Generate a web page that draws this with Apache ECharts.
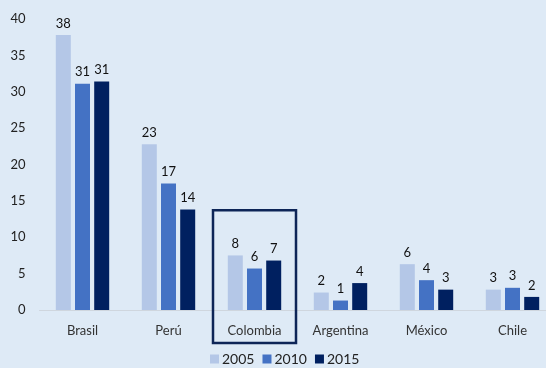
<!DOCTYPE html>
<html>
<head>
<meta charset="utf-8">
<script src="https://cdn.jsdelivr.net/npm/echarts@6/dist/echarts.min.js"></script>
<style>
  html, body { margin: 0; padding: 0; background: #deeaf6; }
  #chart { width: 546px; height: 368px; }
</style>
</head>
<body>
<div id="chart"></div>
<script>
var paises = ['Brasil', 'Perú', 'Colombia', 'Argentina', 'México', 'Chile'];
var anios = ['2005', '2010', '2015'];
var v2005 = [37.8, 22.8, 7.5, 2.4, 6.3, 2.8];
var v2010 = [31.1, 17.4, 5.7, 1.3, 4.1, 3.05];
var v2015 = [31.4, 13.8, 6.8, 3.7, 2.8, 1.8];
var colores = ['#b4c7e7', '#4472c4', '#002060'];

var fuente = 'Lato, "Open Sans", sans-serif';

function serie(nombre, datos, color) {
    return {
        name: nombre,
        type: 'bar',
        data: datos,
        barWidth: 15,
        barGap: '28%',
        itemStyle: { color: color },
        label: {
            show: true,
            position: 'top',
            distance: 5,
            color: '#111',
            fontSize: 13,
            fontFamily: fuente,
            formatter: function (p) { return Math.round(p.value); }
        }
    };
}

var echart = echarts.init(document.getElementById('chart'));
var option = {
    backgroundColor: '#deeaf6',
    animation: false,
    grid: { left: 39.5, right: -9.5, top: 19, bottom: 58, outerBoundsMode: 'none' },
    legend: {
        data: anios,
        left: 210,
        bottom: 2,
        padding: 0,
        itemWidth: 9,
        itemHeight: 9,
        itemGap: 8,
        icon: 'rect',
        textStyle: { fontSize: 14, color: '#222', fontFamily: fuente, padding: [0, 0, 0, -2] }
    },
    xAxis: {
        type: 'category',
        data: paises,
        axisLine: { lineStyle: { color: '#cfd6de', width: 1 } },
        axisTick: { show: false },
        axisLabel: { color: '#333', fontSize: 13, fontFamily: fuente, margin: 14 }
    },
    yAxis: {
        type: 'value',
        min: 0,
        max: 40,
        interval: 5,
        splitLine: { show: false },
        axisLine: { show: false },
        axisTick: { show: false },
        axisLabel: { color: '#222', fontSize: 13, fontFamily: fuente, margin: 14 }
    },
    series: [
        serie(anios[0], v2005, colores[0]),
        serie(anios[1], v2010, colores[1]),
        serie(anios[2], v2015, colores[2])
    ]
};
echart.setOption(option);

// recuadro sobre Colombia
var centro = echart.convertToPixel({ gridIndex: 0 }, ['Colombia', 13.7]);
var base = echart.convertToPixel({ gridIndex: 0 }, ['Colombia', 0]);
echart.setOption({
    graphic: [{
        type: 'rect',
        shape: { x: centro[0] - 41.5, y: centro[1], width: 83, height: base[1] - centro[1] + 33 },
        style: { fill: 'none', stroke: '#0d2557', lineWidth: 2.5 },
        z: 100
    }]
});
</script>
</body>
</html>
